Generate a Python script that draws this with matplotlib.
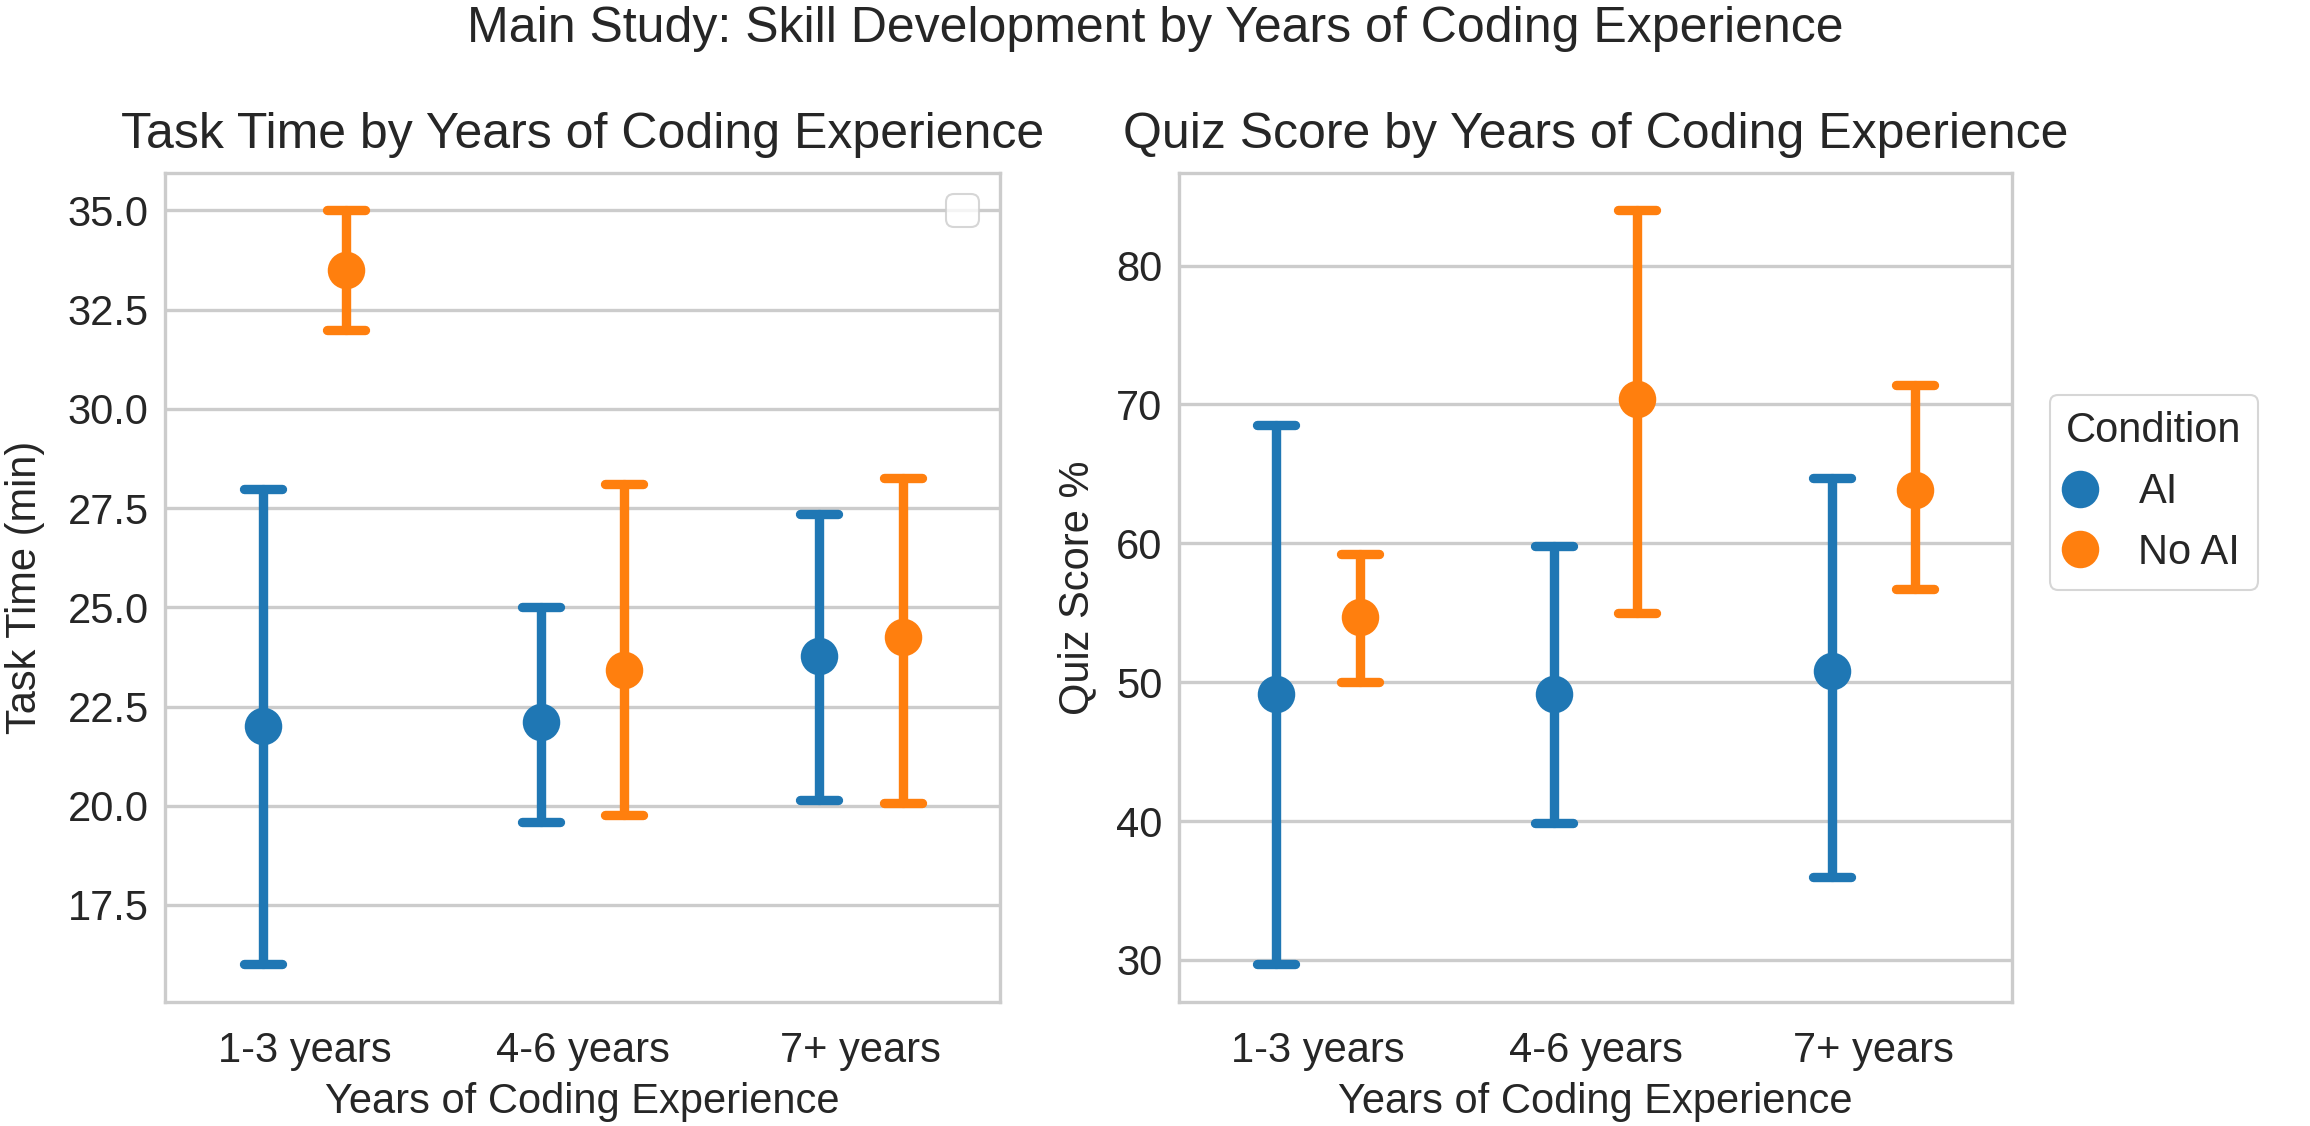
import numpy as np
import matplotlib
matplotlib.use('Agg')
from matplotlib import pyplot as plt
from matplotlib.lines import Line2D
from matplotlib.markers import MarkerStyle
import seaborn as sns

## Data ##
groups = ['1-3 years', '4-6 years', '7+ years']
conditions = ['AI', 'No AI']
colors = ['#1f77b4', '#ff7f0e']

# task time (min): mean, lower and upper end of error bar
time_mean = {'AI': [22.0, 22.1, 23.78], 'No AI': [33.49, 23.43, 24.26]}
time_lo = {'AI': [16.0, 19.6, 20.14], 'No AI': [31.99, 19.77, 20.07]}
time_hi = {'AI': [27.99, 25.0, 27.36], 'No AI': [35.0, 28.1, 28.27]}

# quiz score %
quiz_mean = {'AI': [49.13, 49.13, 50.83], 'No AI': [54.66, 70.37, 63.85]}
quiz_lo = {'AI': [29.67, 39.83, 36.0], 'No AI': [50.0, 54.95, 56.68]}
quiz_hi = {'AI': [68.5, 59.83, 64.7], 'No AI': [59.25, 83.97, 71.37]}

sns.set_theme(style='whitegrid')
plt.rcParams['font.family'] = ['Liberation Sans', 'DejaVu Sans']

fs = 20      # ticks, labels, legend
fs_title = 24

fig = plt.figure(figsize=(15.4, 7.507), dpi=150)
ax1 = fig.add_axes([0.0716, 0.110, 0.3613, 0.7365])
ax2 = fig.add_axes([0.5104, 0.110, 0.3606, 0.7365])

offsets = [-0.15, 0.15]
x = np.arange(len(groups))


def draw(ax, mean, lo, hi):
    for cond, col, off in zip(conditions, colors, offsets):
        m = np.array(mean[cond])
        err = [m - np.array(lo[cond]), np.array(hi[cond]) - m]
        line, caps, bars = ax.errorbar(x + off, m, yerr=err, fmt='o', color=col, ecolor=col,
                                       markersize=17, elinewidth=4.5, capsize=9, capthick=4.5,
                                       label=cond, zorder=3)
        for c in caps:
            c.set_marker(MarkerStyle('_', capstyle='round'))
        for b in bars:
            b.set_capstyle('round')
    ax.set_xticks(x)
    ax.set_xticklabels(groups)
    ax.set_xlim(-0.5, 2.5)
    ax.grid(axis='x', visible=False)
    ax.grid(axis='y', color='#cccccc', linewidth=1.6)
    for s in ax.spines.values():
        s.set_color('#cccccc')
        s.set_linewidth(1.6)
    ax.tick_params(axis='x', labelsize=fs, length=0, pad=14)
    ax.tick_params(axis='y', labelsize=fs, length=0, pad=8)
    ax.set_xlabel('Years of Coding Experience', fontsize=fs, labelpad=5)


draw(ax1, time_mean, time_lo, time_hi)
ax1.set_yticks([17.5, 20.0, 22.5, 25.0, 27.5, 30.0, 32.5, 35.0])
ax1.set_ylabel('Task Time (min)', fontsize=fs, labelpad=11)
ax1.set_title('Task Time by Years of Coding Experience', fontsize=fs_title, pad=12)
ax1.legend(handles=[], loc='upper right', frameon=True, fontsize=fs)

draw(ax2, quiz_mean, quiz_lo, quiz_hi)
ax2.set_yticks([30, 40, 50, 60, 70, 80])
ax2.set_ylabel('Quiz Score %', fontsize=fs, labelpad=9)
ax2.set_title('Quiz Score by Years of Coding Experience', fontsize=fs_title, pad=12)

handles = [Line2D([], [], marker='o', linestyle='', color=c, markersize=17) for c in colors]
ax2.legend(handles, conditions, title='Condition', loc='center left',
           bbox_to_anchor=(1.02, 0.615), fontsize=fs, title_fontsize=fs,
           frameon=True, handlelength=0.6, handletextpad=1.1)

fig.suptitle('Main Study: Skill Development by Years of Coding Experience',
             fontsize=fs_title, y=0.995)

fig.savefig('out.png', dpi=150)
